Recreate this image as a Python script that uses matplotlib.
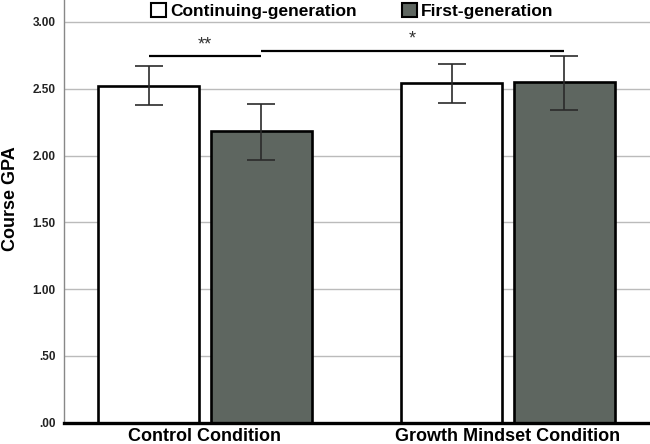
import numpy as np
from matplotlib import pyplot as plt
from matplotlib.patches import Patch

plt.rcParams['font.family'] = ['Liberation Sans', 'DejaVu Sans']

conditions = ["Control Condition", "Growth Mindset Condition"]
groups = ["Continuing-generation", "First-generation"]
gpa = {
    "Continuing-generation": [2.52, 2.54],
    "First-generation": [2.18, 2.548],
}
err_low = {
    "Continuing-generation": [2.376, 2.393],
    "First-generation": [1.965, 2.34],
}
err_high = {
    "Continuing-generation": [2.67, 2.685],
    "First-generation": [2.385, 2.747],
}
# significance brackets: (bar a, bar b, height, label)
sig = [((0, 0), (0, 1), 2.746, "**"), ((0, 1), (1, 1), 2.785, "*")]
yticks = [0, 0.5, 1.0, 1.5, 2.0, 2.5, 3.0]
ytick_labels = [".00", ".50", "1.00", "1.50", "2.00", "2.50", "3.00"]

colors = {"Continuing-generation": "white", "First-generation": "#5e6660"}
width = 0.333
offsets = [-0.1856, 0.1856]

fig = plt.figure(figsize=(6.5, 4.44), dpi=100)
ax = fig.add_axes([64 / 650, 21.3 / 444, 586 / 650, 422.7 / 444])

x = np.arange(len(conditions))
for g, off in zip(groups, offsets):
    vals = np.array(gpa[g])
    lo = vals - np.array(err_low[g])
    hi = np.array(err_high[g]) - vals
    ax.bar(x + off, vals, width, color=colors[g], edgecolor="black",
           linewidth=1.9, zorder=2)
    ax.errorbar(x + off, vals, yerr=[lo, hi], fmt="none", ecolor="#2b2b2b",
                elinewidth=1.2, capsize=10, capthick=1.2, zorder=3)

for (ca, ga), (cb, gb), h, lab in sig:
    xa = x[ca] + offsets[ga]
    xb = x[cb] + offsets[gb]
    ax.plot([xa, xb], [h, h], color="black", lw=1.6, solid_capstyle="butt", zorder=3)
    ax.text((xa + xb) / 2, h + 0.02, lab, ha="center", va="bottom",
            fontsize=13, color="#333333")

ax.set_xlim(-0.465, 1.469)
ax.set_ylim(0, 3.164)
ax.set_yticks(yticks)
ax.set_yticklabels(ytick_labels, fontsize=8.5, fontweight="bold", color="#222222")
ax.set_xticks(x)
ax.set_xticklabels(conditions, fontsize=13, fontweight="bold")
ax.tick_params(axis="y", length=0, pad=6)
ax.tick_params(axis="x", length=0, pad=4)
ax.set_ylabel("Course GPA", fontsize=13, fontweight="bold")
ax.yaxis.set_label_coords(-0.077, 0.529)

ax.grid(axis="y", color="#bbbbbb", lw=1, zorder=0)
ax.set_axisbelow(True)
for s in ["top", "right"]:
    ax.spines[s].set_visible(False)
ax.spines["left"].set_color("#888888")
ax.spines["left"].set_linewidth(1)
ax.spines["bottom"].set_color("black")
ax.spines["bottom"].set_linewidth(2.4)

handles = [Patch(facecolor=colors[g], edgecolor="black", linewidth=1.5) for g in groups]
leg = ax.legend(handles, groups, loc="center", bbox_to_anchor=(0.492, 0.974), ncol=2,
                frameon=False, handlelength=0.85, handleheight=0.85,
                handletextpad=0.25, columnspacing=2.6,
                prop={"size": 12.5, "weight": "bold"})

fig.savefig("out.png", dpi=100)
